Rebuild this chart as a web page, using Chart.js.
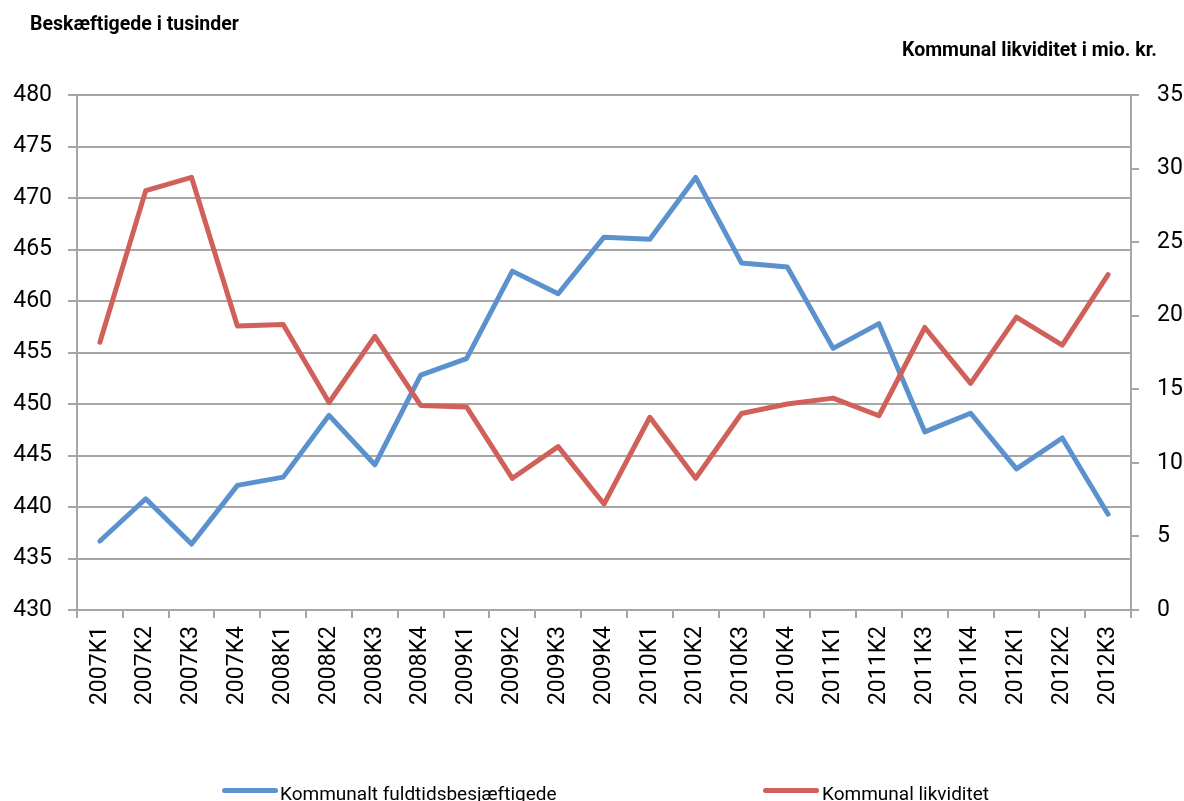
<!DOCTYPE html>
<html lang="da">
<head>
<meta charset="UTF-8">
<title>Kommunalt fuldtidsbeskæftigede og kommunal likviditet</title>
<script src="https://cdn.jsdelivr.net/npm/chart.js@4.4.0/dist/chart.umd.min.js"></script>
<style>
  html, body { margin: 0; padding: 0; background: #fff; overflow: hidden; }
  #wrap { position: relative; width: 1184px; height: 801px; overflow: hidden; }
  .title { position: absolute; font: bold 19.5px Roboto, sans-serif; line-height: 19.5px; color: #000; white-space: nowrap; }
  .lg-line { position: absolute; width: 56px; height: 5px; border-radius: 3px; }
  .lg-text { position: absolute; font: 19px Roboto, sans-serif; line-height: 19px; color: #000; white-space: nowrap; }
</style>
</head>
<body>
<div id="wrap">
  <canvas id="myChart" width="1184" height="801"></canvas>
  <div class="title" style="left:30px; top:14px;">Beskæftigede i tusinder</div>
  <div class="title" style="right:27px; top:40px;">Kommunal likviditet i mio. kr.</div>
  <div class="lg-line" id="lgBlue" style="left:222px; top:788px;"></div>
  <div class="lg-text" style="left:280px; top:784px;">Kommunalt fuldtidsbesjæftigede</div>
  <div class="lg-line" id="lgRed" style="left:763px; top:788px;"></div>
  <div class="lg-text" style="left:822px; top:784px;">Kommunal likviditet</div>
</div>
<script>
  // kvartaler
  var quarters = ['2007K1', '2007K2', '2007K3', '2007K4', '2008K1', '2008K2', '2008K3', '2008K4',
    '2009K1', '2009K2', '2009K3', '2009K4', '2010K1', '2010K2', '2010K3', '2010K4',
    '2011K1', '2011K2', '2011K3', '2011K4', '2012K1', '2012K2', '2012K3']

  // beskæftigede i tusinder (venstre akse)
  var fuldtid = [436.7, 440.8, 436.4, 442.1, 442.9, 448.9, 444.1, 452.8, 454.4, 462.9, 460.7, 466.2,
    466.0, 472.0, 463.7, 463.3, 455.4, 457.8, 447.3, 449.1, 443.7, 446.7, 439.3]

  // likviditet i mio. kr. (højre akse)
  var likviditet = [18.2, 28.5, 29.4, 19.3, 19.4, 14.1, 18.6, 13.9, 13.8, 8.95, 11.1, 7.2,
    13.1, 8.95, 13.35, 14.0, 14.4, 13.2, 19.2, 15.4, 19.9, 18.0, 22.8]

  var blue = '#5b91cc'
  var red = '#cf615a'
  var gridColor = '#a6a6a6'
  var tickFont = { family: 'Roboto', size: 23 }

  document.getElementById('lgBlue').style.background = blue
  document.getElementById('lgRed').style.background = red

  var ctx = document.getElementById('myChart').getContext('2d')
  window.chart = new Chart(ctx, {
    type: 'line',
    data: {
      labels: quarters,
      datasets: [{
        label: 'Kommunalt fuldtidsbesjæftigede',
        data: fuldtid,
        borderColor: blue,
        yAxisID: 'y',
        order: 2
      }, {
        label: 'Kommunal likviditet',
        data: likviditet,
        borderColor: red,
        yAxisID: 'y2',
        order: 1
      }]
    },
    options: {
      responsive: false,
      animation: false,
      devicePixelRatio: 1,
      layout: { padding: { top: 95, left: 0, right: 0, bottom: 0 } },
      elements: {
        point: { radius: 0 },
        line: { tension: 0, borderWidth: 5, borderCapStyle: 'round', borderJoinStyle: 'round' }
      },
      plugins: { legend: { display: false }, tooltip: { enabled: false } },
      scales: {
        x: {
          offset: true,
          grid: { offset: true, drawOnChartArea: false, tickLength: 8, color: gridColor, lineWidth: 2 },
          border: { color: gridColor, width: 2 },
          ticks: { autoSkip: false, minRotation: 90, maxRotation: 90, padding: 8, color: '#000', font: tickFont },
          afterFit: function (s) { s.height = 191 }
        },
        y: {
          position: 'left',
          min: 430,
          max: 480,
          ticks: { stepSize: 5, padding: 16, color: '#000', font: tickFont },
          grid: { color: gridColor, lineWidth: 2, tickLength: 9 },
          border: { color: gridColor, width: 2 },
          afterFit: function (s) { s.width = 77 }
        },
        y2: {
          position: 'right',
          min: 0,
          max: 35,
          ticks: { stepSize: 5, padding: 18, color: '#000', font: tickFont },
          grid: { drawOnChartArea: false, color: gridColor, lineWidth: 2, tickLength: 8 },
          border: { color: gridColor, width: 2 },
          afterFit: function (s) { s.width = 53 }
        }
      }
    }
  })
</script>
</body>
</html>
